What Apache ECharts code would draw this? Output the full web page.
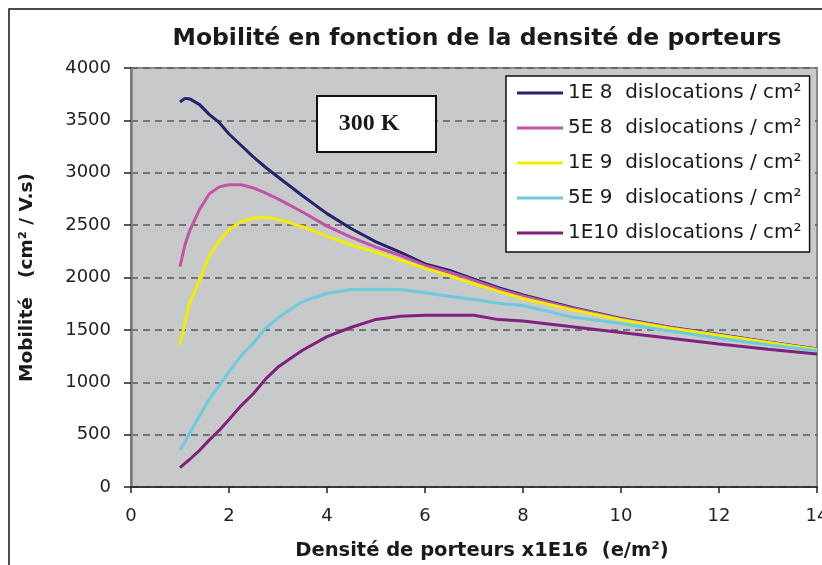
<!DOCTYPE html>
<html>
<head>
<meta charset="utf-8">
<script src="https://cdn.jsdelivr.net/npm/echarts@6/dist/echarts.min.js"></script>
<style>
  html, body { margin: 0; padding: 0; background: #ffffff; }
  #chart { width: 822px; height: 565px; }
</style>
</head>
<body>
<div id="chart"></div>
<script>
// Carrier density (x1E16 e/m²) sample points shared by every curve
const densities = [1, 1.1, 1.2, 1.4, 1.6, 1.8, 2, 2.25, 2.5, 2.75, 3, 3.5, 4, 4.5, 5, 5.5, 6, 6.5, 7, 7.5, 8, 9, 10, 11, 12, 13, 14];

// Mobility (cm²/V.s) for each dislocation density
const mob_1e8  = [3675, 3710, 3705, 3650, 3555, 3480, 3370, 3260, 3150, 3050, 2960, 2780, 2610, 2465, 2340, 2240, 2130, 2068, 1985, 1903, 1833, 1713, 1610, 1525, 1455, 1385, 1318];
const mob_5e8  = [2105, 2310, 2450, 2650, 2800, 2865, 2885, 2885, 2855, 2805, 2750, 2625, 2490, 2383, 2290, 2210, 2115, 2050, 1972, 1890, 1825, 1708, 1605, 1522, 1452, 1383, 1316];
const mob_1e9  = [1360, 1570, 1760, 1975, 2210, 2350, 2455, 2535, 2565, 2575, 2555, 2485, 2395, 2310, 2240, 2165, 2090, 2015, 1940, 1868, 1800, 1692, 1596, 1515, 1448, 1380, 1312];
const mob_5e9  = [355, 430, 515, 680, 840, 970, 1100, 1255, 1375, 1517, 1615, 1770, 1850, 1885, 1887, 1885, 1855, 1820, 1790, 1755, 1732, 1622, 1560, 1490, 1420, 1358, 1302];
const mob_1e10 = [185, 225, 265, 350, 450, 540, 645, 777, 893, 1032, 1145, 1305, 1435, 1525, 1600, 1630, 1640, 1640, 1640, 1598, 1585, 1530, 1475, 1420, 1365, 1315, 1270];

const seriesNames = [
  '1E 8  dislocations / cm²',
  '5E 8  dislocations / cm²',
  '1E 9  dislocations / cm²',
  '5E 9  dislocations / cm²',
  '1E10 dislocations / cm²'
];
const seriesValues = [mob_1e8, mob_5e8, mob_1e9, mob_5e9, mob_1e10];
const seriesColors = ['#23236f', '#c253a6', '#f2ee00', '#6ccbdc', '#80207f'];

const xTicks = { min: 0, max: 14, interval: 2 };
const yTicks = { min: 0, max: 4000, interval: 500 };

const chart = echarts.init(document.getElementById('chart'), null, { renderer: 'canvas' });

const series = seriesNames.map((name, i) => ({
  name: name,
  type: 'line',
  data: densities.map((x, k) => [x, seriesValues[i][k]]),
  showSymbol: false,
  symbol: 'none',
  lineStyle: { color: seriesColors[i], width: 3 },
  itemStyle: { color: seriesColors[i] },
  animation: false,
  z: 3 + i
}));

chart.setOption({
  animation: false,
  backgroundColor: '#ffffff',
  title: {
    text: 'Mobilité en fonction de la densité de porteurs',
    left: 472,
    top: 22,
    textAlign: 'center',
    textStyle: { fontFamily: 'DejaVu Sans', fontWeight: 'bold', fontSize: 23.5, color: '#1a1a1a' }
  },
  grid: {
    left: 131, top: 68, right: 5, bottom: 78,
    outerBoundsMode: 'none',
    containLabel: false,
    show: true,
    backgroundColor: '#c8c9cb',
    borderColor: '#8a8a8a',
    borderWidth: 2
  },
  legend: {
    orient: 'vertical',
    left: 506,
    top: 76,
    data: seriesNames,
    icon: 'rect',
    itemWidth: 46,
    itemHeight: 3,
    itemGap: 13,
    padding: [6, 8, 8, 11],
    backgroundColor: '#ffffff',
    borderColor: '#111111',
    borderWidth: 1.5,
    textStyle: { fontFamily: 'DejaVu Sans', fontSize: 20, color: '#1a1a1a', lineHeight: 22 }
  },
  xAxis: {
    type: 'value',
    min: xTicks.min, max: xTicks.max, interval: xTicks.interval,
    name: 'Densité de porteurs x1E16  (e/m²)',
    nameLocation: 'middle',
    nameGap: 54,
    nameTextStyle: { fontFamily: 'DejaVu Sans', fontWeight: 'bold', fontSize: 19.5, color: '#1a1a1a', padding: [0, 0, 0, 16] },
    axisLine: { show: true, onZero: false, lineStyle: { color: '#222222', width: 1.5 } },
    axisTick: { show: true, inside: false, length: 6, lineStyle: { color: '#222222', width: 1.5 } },
    axisLabel: { margin: 20, fontFamily: 'DejaVu Sans', fontSize: 18, color: '#222222', formatter: v => String(v) },
    splitLine: { show: false }
  },
  yAxis: {
    type: 'value',
    min: yTicks.min, max: yTicks.max, interval: yTicks.interval,
    name: 'Mobilité   (cm² / V.s)',
    nameLocation: 'middle',
    nameRotate: 90,
    nameGap: 94,
    nameTextStyle: { fontFamily: 'DejaVu Sans', fontWeight: 'bold', fontSize: 18.5, color: '#1a1a1a' },
    axisLine: { show: true, lineStyle: { color: '#7a7a7a', width: 2.5 } },
    axisTick: { show: true, inside: false, length: 7, lineStyle: { color: '#222222', width: 1.5 } },
    axisLabel: { margin: 20, fontFamily: 'DejaVu Sans', fontSize: 18, color: '#222222', formatter: v => String(v) },
    splitLine: { show: true, lineStyle: { color: '#5a5a5a', width: 1.5, type: [7, 5] } }
  },
  graphic: [
    {
      type: 'rect',
      silent: true,
      z: 100,
      shape: { x: 9, y: 9, width: 900, height: 700 },
      style: { fill: 'none', stroke: '#111111', lineWidth: 1.5 }
    },
    {
      type: 'rect',
      silent: true,
      z: 100,
      shape: { x: 317, y: 96, width: 119, height: 56 },
      style: { fill: '#ffffff', stroke: '#111111', lineWidth: 2 }
    },
    {
      type: 'text',
      silent: true,
      z: 101,
      x: 369, y: 124,
      style: {
        text: '300 K',
        fontFamily: 'Liberation Serif',
        fontWeight: 'bold',
        fontSize: 24,
        fill: '#1a1a1a',
        align: 'center',
        verticalAlign: 'middle'
      }
    }
  ],
  series: series
});
</script>
</body>
</html>
